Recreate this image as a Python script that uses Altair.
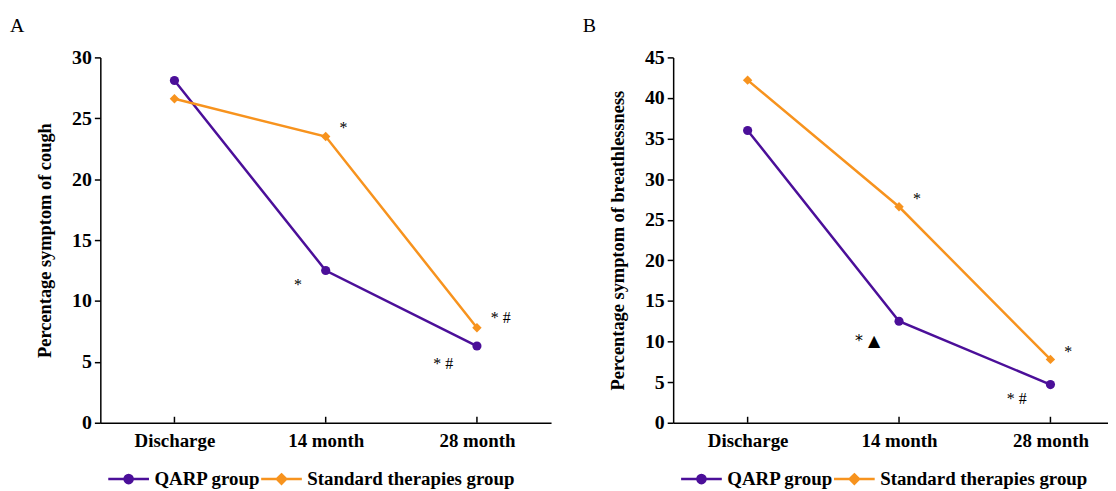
import altair as alt
import pandas as pd

categories = ["Discharge", "14 month", "28 month"]
series = ["QARP group", "Standard therapies group"]

cough_qarp = [28.1, 12.5, 6.3]
cough_std = [26.6, 23.5, 7.8]
breath_qarp = [36.0, 12.5, 4.7]
breath_std = [42.2, 26.6, 7.8]

cough_ann_cat = ["14 month", "14 month", "28 month", "28 month"]
cough_ann_y = [23.8, 10.9, 8.15, 4.4]
cough_ann_text = ["*", "*", "* #", "* #"]
cough_ann_side = ["right", "left", "right", "left"]

breath_ann_cat = ["14 month", "14 month", "28 month", "28 month"]
breath_ann_y = [27.0, 9.5, 8.07, 2.3]
breath_ann_text = ["*", "* \u25b2", "*", "* #"]
breath_ann_side = ["right", "left", "right", "left"]

PURPLE = "#4b0f99"
ORANGE = "#f7931e"
SERIF = "Liberation Serif"
H = 368

circle_path = "M-2,0L2,0M0.4,0A0.4,0.4,0,1,1,-0.4,0A0.4,0.4,0,1,1,0.4,0Z"
diamond_path = "M-2,0L2,0M0,-0.46L0.46,0L0,0.46L-0.46,0Z"


def panel(qarp, std, ann_cat, ann_y, ann_text, ann_side, ymax, ytitle, letter,
          width, xpad, xalign):
    rows = []
    for c, v in zip(categories, qarp):
        rows.append({"cat": c, "val": v, "series": series[0]})
    for c, v in zip(categories, std):
        rows.append({"cat": c, "val": v, "series": series[1]})
    df = pd.DataFrame(rows)
    ann = pd.DataFrame({"cat": ann_cat, "val": ann_y, "text": ann_text, "side": ann_side})

    xscale = alt.Scale(type="point", padding=xpad, align=xalign)
    xaxis = alt.Axis(title=None, labelAngle=0, labelFont=SERIF, labelFontSize=19,
                     labelFontWeight="bold", labelColor="black", ticks=False,
                     domainColor="black", domainWidth=1.5, labelPadding=9, grid=False)
    x = alt.X("cat:N", sort=categories, scale=xscale, axis=xaxis)
    yaxis = alt.Axis(title=ytitle, titleFont=SERIF, titleFontSize=18.5, titleFontWeight="bold",
                     titleColor="black", labelFont=SERIF, labelFontSize=20,
                     labelFontWeight="bold", labelColor="black", tickSize=6,
                     tickColor="black", tickWidth=1.5, domainColor="black",
                     domainWidth=1.5, grid=False, values=list(range(0, ymax + 1, 5)),
                     labelPadding=3, titlePadding=17)
    y = alt.Y("val:Q", scale=alt.Scale(domain=[0, ymax], nice=False), axis=yaxis)

    cscale = alt.Scale(domain=series, range=[PURPLE, ORANGE])
    legend = alt.Legend(title=None, orient="none", legendX=17, legendY=413,
                        direction="horizontal", columns=2, labelFont=SERIF,
                        labelFontSize=19, labelFontWeight="bold", labelColor="black",
                        labelLimit=400, symbolSize=420, labelOffset=14.5,
                        columnPadding=-5, padding=0, symbolStrokeWidth=2.5,
                        symbolOpacity=1)

    base = alt.Chart(df)
    # tiny layer (hidden under the markers) that carries the legend symbols
    key = base.mark_point(filled=True, size=1, opacity=1).encode(
        x=x, y=y,
        fill=alt.Fill("series:N", scale=cscale, legend=legend),
        stroke=alt.Stroke("series:N", scale=cscale, legend=legend),
        shape=alt.Shape("series:N", scale=alt.Scale(domain=series,
                                                    range=[circle_path, diamond_path]),
                        legend=legend))
    lines = base.mark_line(strokeWidth=2.5).encode(
        x=x, y=y, color=alt.Color("series:N", scale=cscale, legend=None),
        detail="series:N")
    pts_q = base.transform_filter(alt.datum.series == series[0]).mark_point(
        shape="circle", filled=True, size=85, opacity=1, color=PURPLE).encode(x=x, y=y)
    pts_s = base.transform_filter(alt.datum.series == series[1]).mark_point(
        shape="diamond", filled=True, size=90, opacity=1, color=ORANGE).encode(x=x, y=y)
    ticks = alt.Chart(pd.DataFrame({"cat": categories})).mark_rule(
        color="black", strokeWidth=1.5).encode(x=x, y=alt.value(H - 6), y2=alt.value(H))
    abase = alt.Chart(ann)
    right = abase.transform_filter("datum.side === 'right'").mark_text(
        align="left", baseline="alphabetic", dx=14, font=SERIF, fontSize=16,
        color="black").encode(x=x, y=y, text="text:N")
    left = abase.transform_filter(
        "datum.side === 'left' && indexof(datum.text, '\u25b2') < 0").mark_text(
        align="right", baseline="alphabetic", dx=-24, font=SERIF, fontSize=16,
        color="black").encode(x=x, y=y, text="text:N")
    left_sym = abase.transform_filter(
        "datum.side === 'left' && indexof(datum.text, '\u25b2') >= 0").mark_text(
        align="right", baseline="alphabetic", dx=-19, font="DejaVu Sans", fontSize=16,
        color="black").encode(x=x, y=y, text="text:N")

    return alt.layer(ticks, key, lines, pts_q, pts_s, right, left, left_sym).properties(
        width=width, height=H,
        title=alt.TitleParams(letter, anchor="start", frame="bounds", font=SERIF,
                              fontSize=20, fontWeight="normal", color="black",
                              dx=-26, offset=12))


a = panel(cough_qarp, cough_std, cough_ann_cat, cough_ann_y, cough_ann_text, cough_ann_side,
          30, "Percentage symptom of cough", "A", 454, 0.49, 0.5)
b = panel(breath_qarp, breath_std, breath_ann_cat, breath_ann_y, breath_ann_text,
          breath_ann_side, 45, "Percentage symptom of breathlessness", "B", 438, 0.436, 0.564)

chart = alt.hconcat(a, b, spacing=32).resolve_scale(
    color="independent", shape="independent", fill="independent", stroke="independent"
).properties(
    padding={"left": 2, "top": 6, "right": 0, "bottom": 0}
).configure_view(stroke=None)

chart.save("out.html", embed_options={"renderer": "svg", "actions": False})
